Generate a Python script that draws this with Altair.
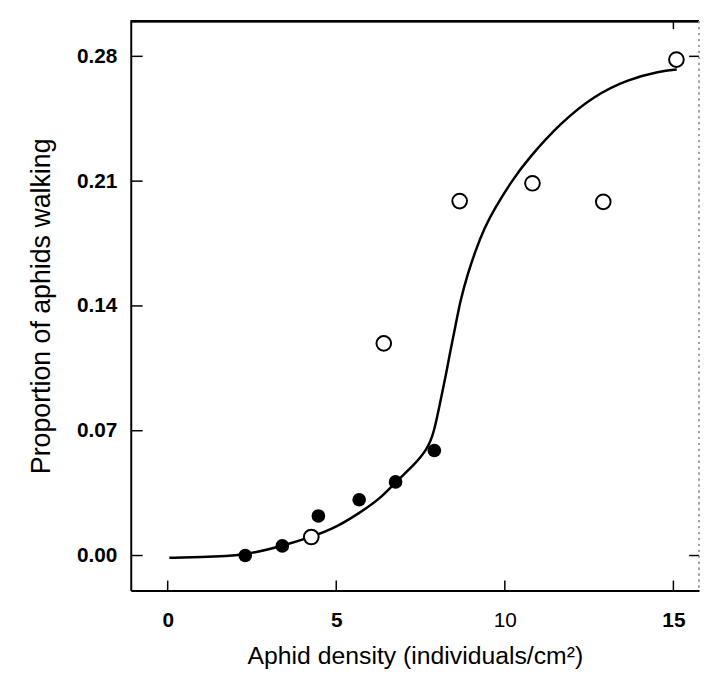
import altair as alt
import pandas as pd

# ---- data ----
filled_x = [2.30, 3.40, 4.47, 5.68, 6.76, 7.91]
filled_y = [0.000, 0.0054, 0.0222, 0.0313, 0.0413, 0.0589]

open_x = [4.26, 6.41, 8.66, 10.82, 12.92, 15.09]
open_y = [0.0104, 0.119, 0.1988, 0.2088, 0.1984, 0.2782]

curve_x = [0.05, 0.9, 2.3, 3.4, 4.26, 5.0, 5.68, 6.3, 6.76, 7.3, 7.71, 7.9, 8.10,
           8.25, 8.39, 8.55, 8.68, 8.9, 9.13, 9.4, 9.71, 10.2, 10.69, 11.67,
           12.65, 13.63, 14.61, 15.1]
curve_y = [-0.0013, -0.0009, 0.0, 0.0054, 0.0104, 0.0158, 0.0238, 0.0318,
           0.0413, 0.0505, 0.0598, 0.069, 0.0876, 0.101, 0.1153, 0.130, 0.143,
           0.158, 0.171, 0.184, 0.195, 0.210, 0.2226, 0.243, 0.2579, 0.267,
           0.2717, 0.2726]

x_ticks = [0, 5, 10, 15]
y_ticks = [0.00, 0.07, 0.14, 0.21, 0.28]
right_ticks = [0.00, 0.28]
top_ticks = [15]
x_domain = [-1.095, 15.76]
y_domain = [-0.0196, 0.2997]

x_title = "Aphid density (individuals/cm²)"
y_title = "Proportion of aphids walking"

filled_df = pd.DataFrame({"x": filled_x, "y": filled_y})
open_df = pd.DataFrame({"x": open_x, "y": open_y})
curve_df = pd.DataFrame({"x": curve_x, "y": curve_y})
xt_df = pd.DataFrame({"x": x_ticks})
yt_df = pd.DataFrame({"y": y_ticks})
rt_df = pd.DataFrame({"y": right_ticks})
tt_df = pd.DataFrame({"x": top_ticks})

W, H = 574, 575
FONT = "Liberation Sans"
xs = alt.Scale(domain=x_domain, nice=False, zero=False)
ys = alt.Scale(domain=y_domain, nice=False, zero=False)

x_axis = alt.Axis(
    orient="bottom", values=x_ticks, format="d", grid=False,
    ticks=False, tickSize=0, domain=True, domainColor="black", domainWidth=2,
    labelFont=FONT, labelFontSize=21, labelColor="black",
    labelFontWeight=alt.condition("datum.value == 10", alt.value("normal"), alt.value("bold")),
    labelPadding=19, labelFlush=False,
    title=x_title, titleFont=FONT, titleFontSize=25, titleFontWeight="normal",
    titleColor="black", titleY=74, titleBaseline="alphabetic")
y_axis = alt.Axis(
    orient="left", values=y_ticks, format=".2f", grid=False,
    ticks=False, tickSize=0, domain=True, domainColor="black", domainWidth=2,
    labelFont=FONT, labelFontSize=21, labelFontWeight="bold", labelColor="black",
    labelPadding=14, labelFlush=False,
    title=y_title, titleFont=FONT, titleFontSize=27, titleFontWeight="normal",
    titleColor="black", titleX=-90, titleBaseline="middle")

X = alt.X("x:Q", scale=xs, axis=x_axis, title=x_title)
Y = alt.Y("y:Q", scale=ys, axis=y_axis, title=y_title)

# fitted curve
line = alt.Chart(curve_df).mark_line(
    color="black", strokeWidth=2.5, interpolate="basis"
).encode(x=X, y=Y)

filled = alt.Chart(filled_df).mark_point(
    shape="circle", filled=True, color="black", size=190, opacity=1
).encode(x=X, y=Y)

opened = alt.Chart(open_df).mark_point(
    shape="circle", filled=False, fill="white", fillOpacity=1, color="black",
    strokeWidth=2, size=220, opacity=1
).encode(x=X, y=Y)

# inward tick marks, placed through the scales
bottom_ticks = alt.Chart(xt_df).mark_rule(color="black", strokeWidth=1.5).encode(
    x=X, y=alt.value(H), y2=alt.value(H - 10))
left_ticks = alt.Chart(yt_df).mark_rule(color="black", strokeWidth=1.5).encode(
    y=Y, x=alt.value(0), x2=alt.value(12))
right_tick_marks = alt.Chart(rt_df).mark_rule(color="black", strokeWidth=1.5).encode(
    y=Y, x=alt.value(W), x2=alt.value(W - 10))
top_tick_marks = alt.Chart(tt_df).mark_rule(color="black", strokeWidth=1.5).encode(
    x=X, y=alt.value(0), y2=alt.value(8))

# top (solid) and right (faint, broken) frame lines
top_frame = alt.Chart(xt_df).mark_rule(color="black", strokeWidth=2).encode(
    x=alt.value(0), x2=alt.value(W), y=alt.value(0))
right_frame = alt.Chart(xt_df).mark_rule(
    color="#9a9a9a", strokeWidth=1, strokeDash=[2, 4]
).encode(x=alt.value(W), y=alt.value(0), y2=alt.value(H))

chart = alt.layer(
    line, bottom_ticks, left_ticks, right_tick_marks, top_tick_marks,
    top_frame, right_frame, filled, opened
).properties(
    width=W, height=H,
    padding={"left": 124, "top": 10, "right": 2, "bottom": 79},
    autosize=alt.AutoSizeParams(type="none"),
    background="white",
).configure_view(stroke=None)

chart.save("out.html", embed_options={"renderer": "svg", "actions": False})
